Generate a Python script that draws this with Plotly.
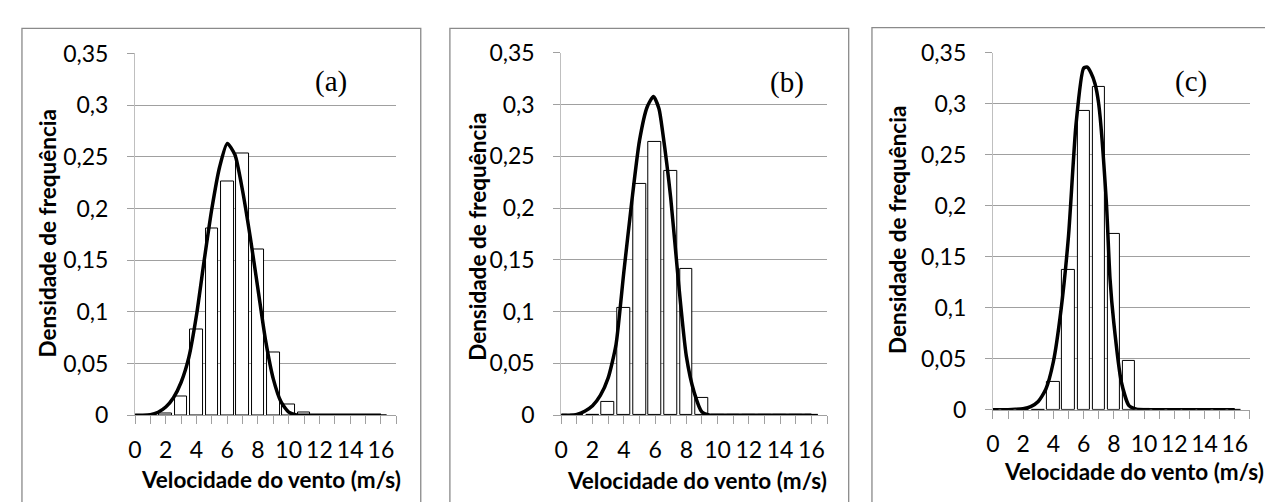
import plotly.graph_objects as go

# ---------------- data ----------------
categories = list(range(0, 17))  # wind speed classes (m/s)

bars_a = [0, 0, 0.002, 0.018, 0.083, 0.181, 0.226, 0.253, 0.160, 0.061, 0.010, 0.003, 0, 0, 0, 0, 0]
bars_b = [0, 0, 0, 0.013, 0.104, 0.223, 0.264, 0.236, 0.141, 0.017, 0.0005, 0, 0, 0, 0, 0, 0]
bars_c = [0, 0, 0, 0, 0.027, 0.137, 0.293, 0.317, 0.172, 0.048, 0.001, 0, 0, 0, 0, 0, 0]

curve_a_x = [0, 0.5, 1, 1.5, 2, 2.5, 3, 3.5, 4, 4.5, 5, 5.5, 6, 6.5, 7, 7.5, 8, 8.5, 9, 9.5, 10, 10.5, 11, 12, 13, 14, 15, 16]
curve_a_y = [0, 0, 0.0006, 0.003, 0.008, 0.017, 0.032, 0.056, 0.097, 0.150, 0.200, 0.240, 0.263, 0.252, 0.217, 0.172, 0.122, 0.072, 0.035, 0.013, 0.003, 0.0003, 0, 0, 0, 0, 0, 0]

curve_b_x = [0, 0.5, 1, 1.5, 2, 2.5, 3, 3.5, 4, 4.5, 5, 5.5, 5.9, 6.25, 6.5, 7, 7.5, 8, 8.5, 9, 9.5, 10, 11, 12, 13, 14, 15, 16]
curve_b_y = [0, 0, 0.0007, 0.0037, 0.009, 0.019, 0.036, 0.068, 0.138, 0.205, 0.265, 0.298, 0.308, 0.296, 0.272, 0.210, 0.128, 0.057, 0.022, 0.003, 0, 0, 0, 0, 0, 0, 0, 0]

curve_c_x = [0, 0.5, 1, 1.5, 2, 2.5, 3, 3.5, 4, 4.5, 5, 5.5, 6, 6.25, 6.5, 6.75, 7, 7.5, 7.75, 8, 8.5, 9, 9.5, 10, 11, 12, 13, 14, 15, 16]
curve_c_y = [0, 0, 0, 0.0003, 0.001, 0.003, 0.008, 0.020, 0.047, 0.097, 0.170, 0.280, 0.335, 0.336, 0.330, 0.320, 0.300, 0.205, 0.128, 0.085, 0.027, 0.004, 0.0005, 0, 0, 0, 0, 0, 0, 0]

x_tickvals = list(range(0, 18))
x_ticktext = ["0", "", "2", "", "4", "", "6", "", "8", "", "10", "", "12", "", "14", "", "16", ""]
y_tickvals = [0, 0.05, 0.10, 0.15, 0.20, 0.25, 0.30, 0.35]
y_ticktext = ["0", "0,05", "0,1", "0,15", "0,2", "0,25", "0,3", "0,35"]

panel_labels = ["(a)", "(b)", "(c)"]
x_title = "Velocidade do vento (m/s)"
y_title = "Densidade de frequência"

# ---------------- layout geometry (pixels) ----------------
W, H = 1273, 502
panels = [
    dict(bars=bars_a, cx=curve_a_x, cy=curve_a_y, x0=120.7, x1=383.4, ytop=32.3, ybot=415.5,
         box=(7, 408, 5.7), lab=(318, 62), xt=(257, 483), yt=(33, 223)),
    dict(bars=bars_b, cx=curve_b_x, cy=curve_b_y, x0=549.3, x1=816.5, ytop=31.7, ybot=415.3,
         box=(437.3, 838.3, 5.7), lab=(776, 63), xt=(686, 485), yt=(465, 226)),
    dict(bars=bars_c, cx=curve_c_x, cy=curve_c_y, x0=983.3, x1=1241.7, ytop=31.7, ybot=409.5,
         box=(861.7, 1264.3, 5.0), lab=(1183, 62), xt=(1125, 475), yt=(888, 219)),
]

FONT = "Lato"
fig = go.Figure()
shapes = []
annotations = []

for i, p in enumerate(panels):
    n = "" if i == 0 else str(i + 1)
    xa, ya = "x" + n, "y" + n
    fig.add_trace(go.Bar(x=categories, y=p["bars"], width=0.82, xaxis=xa, yaxis=ya,
                         marker=dict(color="white", line=dict(color="black", width=1)),
                         showlegend=False, hoverinfo="skip"))
    fig.add_trace(go.Scatter(x=p["cx"], y=p["cy"], mode="lines", xaxis=xa, yaxis=ya,
                             line=dict(color="black", width=3.5, shape="spline", smoothing=0.6),
                             showlegend=False, hoverinfo="skip", cliponaxis=False))
    xdom = [p["x0"] / W, p["x1"] / W]
    ydom = [(H - p["ybot"]) / H, (H - p["ytop"]) / H]
    fig.layout["xaxis" + n] = dict(
        domain=xdom, range=[0, 17], anchor=ya, tickvals=x_tickvals, ticktext=x_ticktext,
        ticks="outside", ticklen=8, tickcolor="#a0a0a0", tickwidth=1,
        showline=True, linecolor="#a0a0a0", linewidth=1, showgrid=False, zeroline=False,
        tickfont=dict(family=FONT, size=23, color="black"), ticklabelstandoff=6, fixedrange=True)
    fig.layout["yaxis" + n] = dict(
        domain=ydom, range=[0, 0.35], anchor=xa, tickvals=y_tickvals, ticktext=y_ticktext,
        ticks="outside", ticklen=7, tickcolor="#a0a0a0", tickwidth=1,
        showline=True, linecolor="#bfbfbf", linewidth=1, showgrid=True, gridcolor="#a0a0a0",
        gridwidth=1, zeroline=False,
        tickfont=dict(family=FONT, size=23, color="black"), ticklabelstandoff=14, fixedrange=True)

    bx0, bx1, by0 = p["box"]
    shapes.append(dict(type="rect", xref="paper", yref="paper",
                       x0=bx0 / W, x1=bx1 / W, y0=-0.05, y1=(H - by0) / H,
                       line=dict(color="#8a8a8a", width=1.3), fillcolor="rgba(0,0,0,0)", layer="below"))
    annotations.append(dict(text=panel_labels[i], xref="paper", yref="paper",
                            x=p["lab"][0] / W, y=(H - p["lab"][1]) / H, showarrow=False,
                            xanchor="center", yanchor="middle",
                            font=dict(family="Liberation Serif", size=29, color="black")))
    annotations.append(dict(text="<b>" + x_title + "</b>", xref="paper", yref="paper",
                            x=p["xt"][0] / W, y=(H - p["xt"][1]) / H, showarrow=False,
                            xanchor="center", yanchor="middle",
                            font=dict(family=FONT, size=22.5, color="black")))
    annotations.append(dict(text="<b>" + y_title + "</b>", xref="paper", yref="paper",
                            x=p["yt"][0] / W, y=(H - p["yt"][1]) / H, showarrow=False,
                            xanchor="center", yanchor="middle", textangle=-90,
                            font=dict(family=FONT, size=22.5, color="black")))

fig.update_layout(width=W, height=H, margin=dict(l=0, r=0, t=0, b=0),
                  paper_bgcolor="white", plot_bgcolor="white", bargap=0,
                  shapes=shapes, annotations=annotations)

fig.write_html("out.html", config={"displayModeBar": False})
